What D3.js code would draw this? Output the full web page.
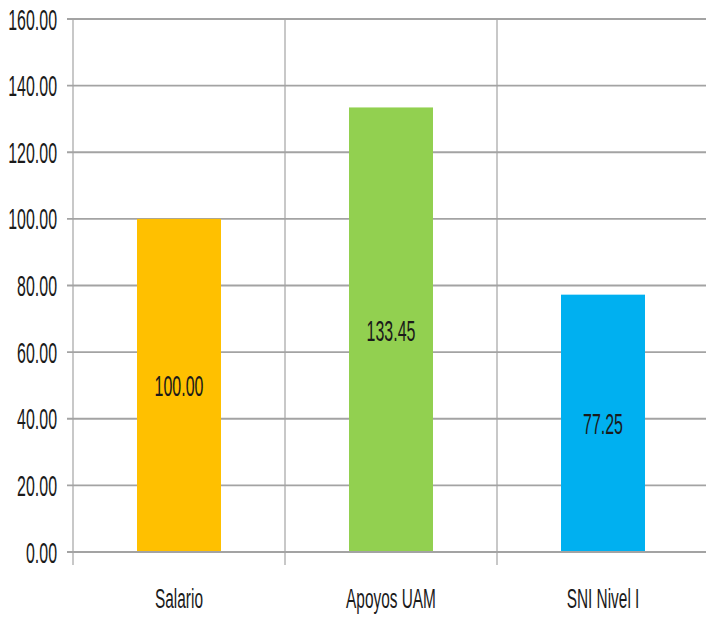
<!DOCTYPE html>
<html>
<head>
<meta charset="utf-8">
<script src="https://cdn.jsdelivr.net/npm/d3@7"></script>
<style>
  html, body { margin: 0; padding: 0; background: #fff; }
  svg { display: block; }
  text { font-family: "Liberation Sans", Arial, sans-serif; fill: #1a1a1a; }
</style>
</head>
<body>
<svg id="chart" width="706" height="617"></svg>
<script>
const categories = ["Salario", "Apoyos UAM", "SNI Nivel I"];
const values = [100.00, 133.45, 77.25];
const colors = ["#FFC000", "#92D050", "#00B0F0"];
const yTicks = [0, 20, 40, 60, 80, 100, 120, 140, 160];

const svg = d3.select("#chart");
const x0 = 73, x1 = 709, yTop = 19, yBot = 552;
const pi = 1 - 84 / 212;
const x = d3.scaleBand().domain(categories).range([x0, x1]).paddingInner(pi).paddingOuter(pi / 2);
const y = d3.scaleLinear().domain([0, 160]).range([yBot, yTop]);
const step = x.step();
const gridColor = "#a3a3a3";
const sx = 0.55;

// horizontal gridlines + tick marks
svg.append("g").selectAll("line").data(yTicks).join("line")
  .attr("x1", x0 - 6).attr("x2", 706)
  .attr("y1", d => y(d)).attr("y2", d => y(d))
  .attr("stroke", gridColor).attr("stroke-width", 1.8);

// vertical lines at category boundaries
const bounds = d3.range(categories.length).map(i => x0 + i * step);
svg.append("g").selectAll("line").data(bounds).join("line")
  .attr("x1", d => d).attr("x2", d => d)
  .attr("y1", yTop).attr("y2", yBot + 13)
  .attr("stroke", gridColor).attr("stroke-width", 1.2);

// y tick labels
svg.append("g").selectAll("text").data(yTicks).join("text")
  .attr("transform", d => `translate(57,${y(d) + 10.5}) scale(${sx},1)`)
  .attr("text-anchor", "end")
  .attr("font-size", 29)
  .text(d => d3.format(".2f")(d));

// bars
svg.append("g").selectAll("rect").data(values).join("rect")
  .attr("x", (d, i) => x(categories[i]))
  .attr("width", x.bandwidth())
  .attr("y", d => y(d))
  .attr("height", d => y(0) - y(d))
  .attr("fill", (d, i) => colors[i]);

// redraw baseline on top
svg.append("line").attr("x1", x0 - 6).attr("x2", 706).attr("y1", y(0)).attr("y2", y(0))
  .attr("stroke", gridColor).attr("stroke-width", 1.8);

// data labels
svg.append("g").selectAll("text").data(values).join("text")
  .attr("transform", (d, i) => `translate(${x(categories[i]) + x.bandwidth() / 2},${(y(d) + y(0)) / 2 + 11}) scale(${sx},1)`)
  .attr("text-anchor", "middle")
  .attr("font-size", 29)
  .text(d => d3.format(".2f")(d));

// category labels
svg.append("g").selectAll("text").data(categories).join("text")
  .attr("transform", d => `translate(${x(d) + x.bandwidth() / 2},608) scale(${sx},1)`)
  .attr("text-anchor", "middle")
  .attr("font-size", 28)
  .text(d => d);
</script>
</body>
</html>
